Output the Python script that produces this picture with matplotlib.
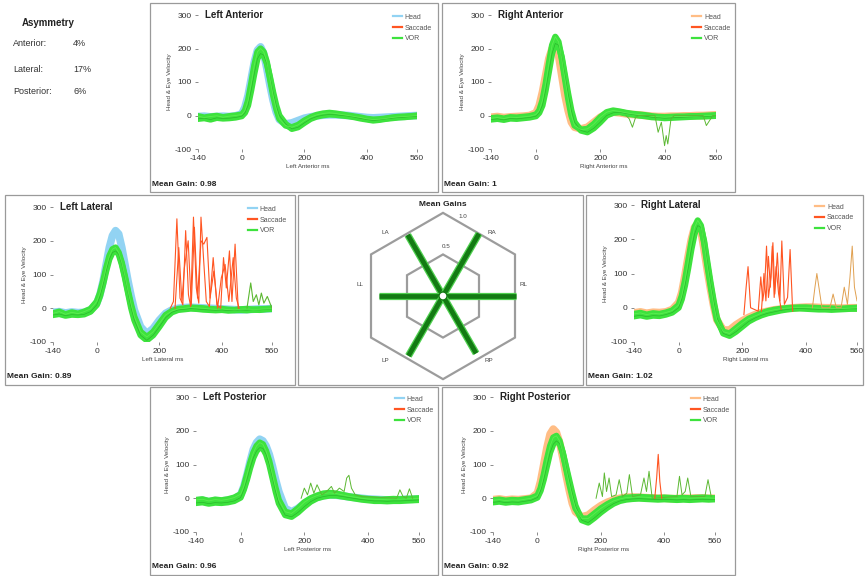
import matplotlib
matplotlib.use("Agg")
import matplotlib.pyplot as plt
from matplotlib.patches import Rectangle, Polygon, Circle
from matplotlib.lines import Line2D
import numpy as np

plt.rcParams['font.family'] = ['Liberation Sans', 'DejaVu Sans']
plt.rcParams['axes.unicode_minus'] = False

# sample times (ms) shared by the head / VOR traces
t_ms = [-140, -120, -100, -80, -60, -40, -20, 0, 10, 20, 30, 40, 50, 60, 70, 80, 90, 100,
        110, 120, 140, 160, 180, 200, 220, 240, 260, 280, 300, 320, 340, 360, 380, 400,
        420, 440, 460, 480, 500, 520, 540, 560]

# Left Anterior
la_head = [-3, -2, -4, -3, -2, -3, -1, 5, 25, 60, 110, 160, 195, 205, 185, 140, 90, 45, 10, -12,
           -25, -22, -15, -8, -4, -1, 1, 2, 2, 1, 0, -2, -4, -6, -7, -6, -5, -4, -3, -2, -1, 0]
la_vor1 = [-2, -6, -3, -1, -5, -2, 0, 3, 15, 45, 95, 150, 190, 200, 190, 160, 110, 60, 20, -10,
           -30, -35, -28, -15, -5, 2, 6, 8, 6, 3, 0, -3, -6, -10, -12, -11, -9, -6, -4, -3, -2, 0]
la_vor2 = [-10, -8, -12, -7, -9, -8, -6, -2, 8, 30, 75, 125, 170, 185, 180, 155, 115, 70, 30, 0,
           -25, -40, -35, -22, -10, -3, 1, 3, 2, 0, -2, -5, -9, -12, -15, -13, -10, -8, -6, -5, -3, -2]

# Right Anterior
ra_head = [-5, -3, -6, -4, -3, -2, 0, 8, 30, 70, 120, 170, 200, 210, 180, 120, 60, 15, -20, -35,
           -40, -35, -20, -5, 5, 10, 8, 5, 3, 2, 0, -2, -3, -3, -2, -2, -1, -1, 0, 0, 1, 2]
ra_vor1 = [-8, -6, -9, -5, -6, -4, -2, 3, 15, 45, 95, 155, 210, 235, 220, 170, 110, 50, 0, -30,
           -42, -40, -25, -5, 10, 15, 12, 8, 5, 3, 1, -2, -4, -5, -4, -3, -3, -2, -2, -1, 0, 1]
ra_vor2 = [-12, -10, -13, -9, -10, -8, -6, -2, 8, 30, 75, 130, 185, 215, 210, 175, 120, 65, 15, -20,
           -45, -50, -38, -20, 0, 8, 10, 6, 3, 0, -2, -5, -6, -8, -7, -6, -5, -4, -3, -3, -2, -1]
ra_dip_t = [280, 290, 300, 310, 320, 370, 380, 390, 400, 405, 410, 420, 430, 520, 530, 540, 550, 560]
ra_dip_v = [0, -10, -35, -5, 0, 0, -50, -20, -90, -60, -85, -10, 0, 0, -30, -15, 0, 0]

# Left Lateral
ll_head = [-12, -10, -14, -11, -13, -12, -5, 15, 40, 80, 130, 180, 215, 230, 220, 180, 130, 80, 35, -5,
           -55, -75, -60, -35, -15, -5, 0, 2, 3, 2, 1, 0, -1, -2, -3, -4, -5, -4, -3, -2, -2, -1]
ll_vor1 = [-15, -10, -18, -12, -16, -10, -2, 20, 45, 80, 120, 155, 175, 180, 165, 135, 95, 50, 10, -25,
           -70, -85, -70, -45, -20, -8, -2, 0, 2, 1, 0, -2, -3, -2, -4, -5, -3, -2, -4, -3, -2, -1]
ll_vor2 = [-20, -17, -22, -19, -20, -18, -10, 10, 35, 70, 110, 145, 165, 170, 160, 130, 90, 45, 0, -35,
           -80, -95, -80, -55, -28, -12, -5, -3, -1, -2, -4, -5, -6, -5, -7, -6, -5, -6, -4, -5, -3, -2]
ll_sac1_t = [235, 245, 256, 266, 275, 284, 293, 300, 309, 318, 326, 333, 341, 350, 360, 372, 384, 396,
             405, 414, 424, 432, 442, 452]
ll_sac1_v = [0, 20, 265, 30, 10, 230, 40, 5, 270, 60, 15, 270, 150, 20, 5, 150, 10, 0,
             150, 60, 170, 20, 190, 0]
ll_sac2_t = [250, 262, 272, 280, 292, 302, 312, 322, 333, 342, 352, 362, 374, 386, 398, 410, 422, 436,
             446, 455]
ll_sac2_v = [0, 180, 20, 120, 200, 10, 240, 30, 200, 190, 210, 30, 110, 0, 90, 130, 20, 150, 30, 0]
ll_late_t = [480, 492, 500, 510, 518, 526, 534, 545, 560]
ll_late_v = [0, 75, 20, 40, 10, 45, 15, 35, 0]

# Right Lateral
rl_head = [-15, -12, -16, -13, -14, -12, -5, 15, 45, 95, 150, 200, 235, 245, 225, 170, 110, 55, 5, -35,
           -65, -65, -50, -38, -28, -20, -14, -10, -6, -4, -2, 0, 1, 2, 2, 1, 0, 0, -1, -1, 0, 0]
rl_vor1 = [-18, -15, -20, -16, -18, -14, -8, 8, 35, 80, 135, 190, 235, 255, 240, 190, 125, 65, 10, -35,
           -70, -75, -60, -45, -32, -24, -16, -10, -6, -3, -1, 0, 1, 1, 0, -1, -2, -2, -3, -2, -1, 0]
rl_vor2 = [-25, -22, -26, -23, -24, -20, -14, 0, 25, 65, 115, 170, 215, 240, 235, 195, 135, 75, 20, -28,
           -75, -82, -70, -55, -40, -30, -22, -16, -12, -8, -5, -3, -2, -3, -4, -5, -5, -6, -5, -4, -3, -3]
rl_sac1_t = [205, 212, 218, 226, 250, 258, 264, 270, 276, 282, 290, 296, 302, 310, 318, 324, 332, 342,
             350, 358]
rl_sac1_v = [-20, 60, 120, 0, -10, 90, 20, 60, 180, 30, 90, 190, 40, 160, 20, 195, 10, 30, 170, -10]
rl_sac2_t = [260, 268, 274, 282, 288, 294, 300, 306, 314, 322]
rl_sac2_v = [-10, 100, 20, 150, 60, 180, 30, 120, 40, -5]
rl_late_t = [420, 428, 434, 442, 450, 475, 485, 495, 510, 520, 530, 538, 545, 552, 560]
rl_late_v = [0, 60, 100, 50, 0, 0, 40, 0, 0, 60, 10, 90, 180, 60, 20]

# Left Posterior
lp_head = [-8, -6, -10, -7, -8, -6, -2, 10, 35, 70, 110, 145, 165, 175, 170, 155, 130, 95, 55, 20,
           -30, -40, -30, -15, -5, 3, 8, 10, 9, 7, 4, 2, 0, -2, -3, -4, -5, -5, -4, -3, -3, -2]
lp_vor1 = [-5, -3, -8, -4, -6, -3, 2, 12, 35, 70, 105, 135, 155, 165, 160, 140, 110, 70, 30, -5,
           -40, -45, -30, -12, 0, 8, 14, 16, 14, 10, 6, 3, 0, -2, -3, -4, -3, -2, -3, -2, -1, 0]
lp_vor2 = [-14, -12, -16, -13, -14, -12, -8, 2, 25, 55, 90, 120, 140, 150, 148, 130, 100, 60, 20, -15,
           -50, -55, -42, -25, -10, 0, 5, 8, 8, 5, 2, -1, -4, -6, -8, -8, -9, -8, -8, -7, -6, -5]
lp_bump_t = [190, 200, 210, 220, 230, 240, 255, 270, 285, 295, 310, 325, 333, 340, 348, 360, 380,
             490, 500, 510, 520, 530, 540]
lp_bump_v = [0, 30, 10, 45, 15, 40, 10, 20, 35, 15, 30, 20, 60, 68, 30, 10, 5, 0, 25, 5, 0, 28, 0]

# Right Posterior
rp_head = [-4, -2, -5, -3, -4, -2, 0, 15, 50, 100, 150, 190, 205, 195, 165, 120, 70, 25, -15, -40,
           -55, -50, -35, -22, -12, -5, 0, 3, 4, 3, 2, 1, 0, 0, -1, -1, 0, 0, 1, 1, 0, 0]
rp_vor1 = [-6, -4, -7, -5, -6, -3, 0, 8, 30, 70, 115, 155, 180, 185, 170, 135, 90, 45, 5, -30,
           -60, -60, -45, -30, -18, -8, -2, 2, 3, 4, 3, 2, 1, 2, 1, 0, 1, 0, 1, 2, 1, 0]
rp_vor2 = [-12, -10, -13, -11, -12, -9, -6, 2, 22, 55, 95, 135, 160, 170, 162, 135, 95, 55, 15, -22,
           -65, -72, -58, -42, -28, -16, -8, -4, -2, -1, -2, -3, -4, -3, -4, -5, -4, -5, -4, -3, -4, -3]
rp_spk_t = [185, 195, 205, 211, 218, 226, 234, 248, 258, 268, 282, 290, 300, 325, 336, 344, 352, 362,
            440, 448, 456, 466, 474, 484, 528, 538, 548]
rp_spk_v = [0, 45, 5, 75, 20, 60, 5, 10, 55, 5, 15, 70, 5, 10, 60, 20, 80, 0,
            5, 65, 10, 20, 60, 5, 5, 55, 5]
rp_sac_t = [370, 376, 381, 386, 392]
rp_sac_v = [0, 60, 130, 50, 0]

# summary numbers
canal_names = ['LA', 'RA', 'RL', 'LL', 'LP', 'RP']
canal_angles = [120, 60, 0, 180, 240, 300]
mean_gains = [0.98, 1.0, 1.02, 0.89, 0.96, 0.92]
asym_labels = ['Anterior:', 'Lateral:', 'Posterior:']
asym_values = ['4%', '17%', '6%']

W, H = 865, 576
HEAD_L = '#92d3f3'
HEAD_R = '#ffbd85'
SACC = '#ff5522'
VOR = '#3de23d'
VOR_DK = '#1f9a1f'
THIN = '#5cb832'

fig = plt.figure(figsize=(W / 100, H / 100), dpi=100)


def px(x0, y0, x1, y1):
    return [x0 / W, 1 - y1 / H, (x1 - x0) / W, (y1 - y0) / H]


def box(x0, y0, x1, y1):
    fig.add_artist(Rectangle((x0 / W, 1 - y1 / H), (x1 - x0) / W, (y1 - y0) / H,
                             transform=fig.transFigure, fill=False, ec='#9a9a9a', lw=0.9))


def panel(bx, rect, title, head, vor1, vor2, head_col, gain, extras, leg_x=1.08):
    box(*bx)
    ax = fig.add_axes(px(*rect))
    ax.patch.set_alpha(0)
    ax.plot(t_ms, head, color=head_col, lw=5.5, solid_joinstyle='round')
    ax.plot(t_ms, vor2, color=VOR, lw=4.5, solid_joinstyle='round')
    ax.plot(t_ms, vor1, color=VOR, lw=4.5, solid_joinstyle='round')
    ax.plot(t_ms, vor2, color=VOR_DK, lw=0.5, alpha=0.6)
    ax.plot(t_ms, vor1, color='#66ee55', lw=0.6, alpha=0.8)
    for tt, vv, col, lw in extras:
        ax.plot(tt, vv, color=col, lw=lw)
    ax.set_xlim(-140, 560)
    ax.set_ylim(-100, 300)
    ax.set_xticks([-140, 0, 200, 400, 560])
    ax.set_yticks([-100, 0, 100, 200, 300])
    for s in ax.spines.values():
        s.set_visible(False)
    ax.tick_params(labelsize=6, length=2.5, width=0.6, color='#777777', pad=2, labelcolor='#333333')
    ax.text(0.03, 1, title, transform=ax.transAxes, ha='left', va='center',
            fontsize=7, fontweight='bold', color='#222222')
    ax.set_ylabel('Head & Eye Velocity', fontsize=4.5, labelpad=2, color='#444444')
    ax.set_xlabel(title + ' ms', fontsize=4.5, labelpad=1, color='#444444')
    handles = [Line2D([], [], color=c, lw=1.6) for c in (head_col, SACC, VOR)]
    ax.legend(handles, ['Head', 'Saccade', 'VOR'], loc='upper right', bbox_to_anchor=(leg_x, 1.03),
              frameon=False, fontsize=5, handlelength=1.3, handletextpad=0.4,
              labelspacing=0.55, borderaxespad=0, labelcolor='#555555')
    fig.text((bx[0] + 2) / W, 1 - (bx[3] - 8) / H, f'Mean Gain: {gain:g}',
             fontsize=6, fontweight='bold', va='center', color='#222222')


panel((150, 3, 438, 192), (198, 15, 417, 149), 'Left Anterior', la_head, la_vor1, la_vor2,
      HEAD_L, mean_gains[0], [])
panel((442, 3, 735, 192), (491, 15, 716, 149), 'Right Anterior', ra_head, ra_vor1, ra_vor2,
      HEAD_R, mean_gains[1], [(ra_dip_t, ra_dip_v, THIN, 0.7)])
panel((5, 195, 295, 385), (53, 207, 272, 342), 'Left Lateral', ll_head, ll_vor1, ll_vor2,
      HEAD_L, mean_gains[3],
      [(ll_sac1_t, ll_sac1_v, SACC, 0.8), (ll_sac2_t, ll_sac2_v, SACC, 0.8),
       (ll_late_t, ll_late_v, THIN, 0.8)])
panel((586, 195, 863, 385), (634, 205, 857, 342), 'Right Lateral', rl_head, rl_vor1, rl_vor2,
      HEAD_R, mean_gains[2],
      [(rl_sac1_t, rl_sac1_v, SACC, 0.8), (rl_sac2_t, rl_sac2_v, SACC, 0.8),
       (rl_late_t, rl_late_v, '#e0a050', 0.7)], leg_x=1.0)
panel((150, 387, 438, 575), (196, 397, 419, 532), 'Left Posterior', lp_head, lp_vor1, lp_vor2,
      HEAD_L, mean_gains[4], [(lp_bump_t, lp_bump_v, THIN, 0.7)])
panel((442, 387, 735, 575), (493, 397, 715, 532), 'Right Posterior', rp_head, rp_vor1, rp_vor2,
      HEAD_R, mean_gains[5],
      [(rp_spk_t, rp_spk_v, THIN, 0.7), (rp_sac_t, rp_sac_v, SACC, 0.8)])

# Mean gains hexagon
box(298, 195, 583, 385)
pax = fig.add_axes(px(298, 195, 583, 385))
pax.set_xlim(-145, 140)
pax.set_ylim(-89, 101)
pax.axis('off')
S = 72  # px per unit gain (hexagon apothem)
for ring in [0.5, 1.0]:
    R = ring * S / np.cos(np.radians(30))
    verts = [(R * np.cos(np.radians(a)), R * np.sin(np.radians(a))) for a in range(30, 390, 60)]
    pax.add_patch(Polygon(verts, closed=True, fill=False, ec='#9c9c9c', lw=1.6))
pax.text(20, 80, '1.0', fontsize=4.5, ha='center', va='center', color='#444444')
pax.text(3, 50, '0.5', fontsize=4.5, ha='center', va='center', color='#444444')
for ang, g in zip(canal_angles, mean_gains):
    a = np.radians(ang)
    xs = [0, g * S * np.cos(a)]
    ys = [0, g * S * np.sin(a)]
    pax.plot(xs, ys, color='#4fd04f', lw=5.2, solid_capstyle='butt')
    pax.plot(xs, ys, color='#137a13', lw=3.4, solid_capstyle='butt')
pax.add_patch(Circle((0, 0), 4, fc='white', ec='#137a13', lw=1, zorder=5))
label_pos = {'LA': (-58, 63), 'RA': (49, 63), 'RL': (80, 11), 'LL': (-83, 11),
             'LP': (-58, -65), 'RP': (46, -65)}
for name in canal_names:
    lx, ly = label_pos[name]
    pax.text(lx, ly, name, fontsize=4.5, ha='center', va='center', color='#444444')
pax.text(0, 92, 'Mean Gains', fontsize=6, fontweight='bold', ha='center', va='center', color='#222222')

# Asymmetry block
fig.text(22 / W, 1 - 23 / H, 'Asymmetry', fontsize=7, fontweight='bold', va='center', color='#222222')
for i, (lab, val) in enumerate(zip(asym_labels, asym_values)):
    y = [43, 70, 92][i]
    fig.text(13 / W, 1 - y / H, lab, fontsize=6.5, va='center', color='#333333')
    fig.text(73 / W, 1 - y / H, val, fontsize=6.5, va='center', color='#333333')

fig.savefig('out.png', dpi=100, facecolor='white')
